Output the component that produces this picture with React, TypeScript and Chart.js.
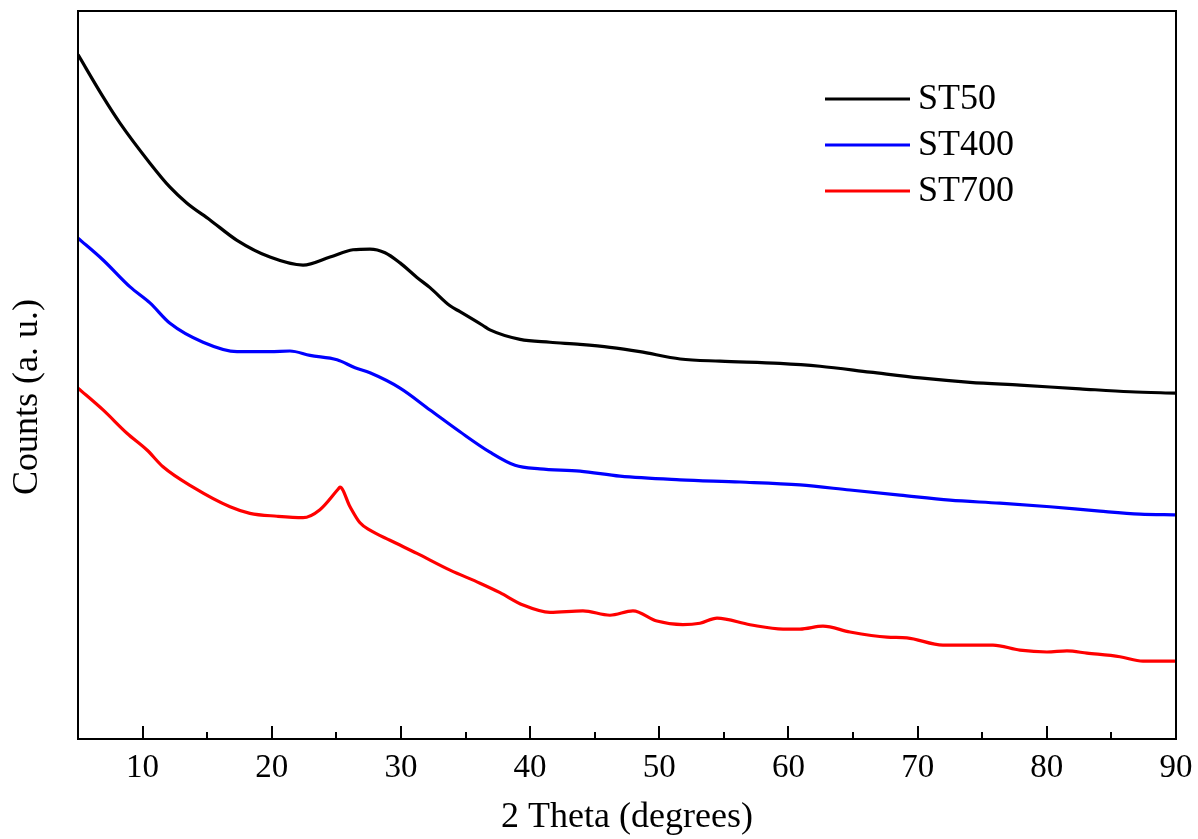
import React, { useEffect, useRef } from "react";
import { Chart, registerables } from "chart.js";

Chart.register(...registerables);

// ---- Data (2θ in degrees, counts in arbitrary units) ----
const st50X = [5.0, 6.94, 8.25, 10.57, 12.12, 13.44, 15.22, 17.31, 19.86, 22.42, 24.51, 26.29, 27.6, 28.77, 29.93, 31.24, 32.25, 33.8, 34.57, 36.35, 36.89, 39.22, 41.54, 43.86, 46.18, 48.5, 51.62, 54.7, 59.34, 62.44, 66.31, 70.18, 74.05, 77.92, 82.57, 86.44, 90.0];
const st50Y = [94.0, 88.2, 84.6, 79.1, 75.8, 73.6, 71.3, 68.5, 66.2, 65.1, 66.2, 67.2, 67.3, 66.8, 65.4, 63.4, 62.0, 59.5, 58.7, 56.8, 56.2, 54.9, 54.5, 54.2, 53.8, 53.2, 52.2, 51.9, 51.6, 51.2, 50.4, 49.6, 49.0, 48.6, 48.1, 47.7, 47.5];

const st400X = [5.0, 6.94, 9.03, 10.57, 12.12, 14.68, 17.31, 19.86, 21.41, 22.96, 25.05, 26.45, 27.6, 29.93, 32.25, 34.57, 36.89, 38.83, 40.76, 43.86, 46.96, 51.6, 56.25, 60.89, 64.76, 68.63, 72.5, 76.37, 80.24, 84.11, 87.21, 90.0];
const st400Y = [68.8, 65.8, 62.1, 59.9, 57.1, 54.5, 53.2, 53.2, 53.3, 52.7, 52.1, 51.0, 50.3, 48.2, 45.2, 42.2, 39.4, 37.6, 37.1, 36.8, 36.1, 35.6, 35.3, 34.9, 34.2, 33.5, 32.8, 32.4, 31.9, 31.3, 30.9, 30.8];

const st700X = [5.0, 6.94, 8.79, 10.34, 11.58, 13.9, 16.77, 18.31, 20.4, 22.42, 23.73, 25.13, 25.28, 26.06, 26.83, 27.6, 29.15, 31.24, 33.8, 36.12, 37.67, 39.45, 41.54, 44.09, 46.18, 47.96, 49.82, 51.83, 53.15, 54.47, 57.02, 59.58, 60.89, 62.67, 64.76, 67.63, 69.17, 71.96, 75.83, 77.92, 80.01, 81.56, 83.11, 85.66, 87.44, 90.0];
const st700Y = [48.2, 45.2, 42.0, 39.7, 37.4, 34.6, 31.9, 31.0, 30.6, 30.4, 31.5, 34.3, 34.6, 31.9, 29.7, 28.7, 27.3, 25.5, 23.2, 21.4, 20.1, 18.4, 17.4, 17.6, 17.0, 17.6, 16.2, 15.7, 15.9, 16.6, 15.7, 15.1, 15.1, 15.5, 14.7, 14.0, 13.9, 12.9, 12.9, 12.2, 11.95, 12.1, 11.8, 11.3, 10.7, 10.7];

const seriesLabels = ["ST50", "ST400", "ST700"];
const seriesColors = ["#000000", "#0000ff", "#ff0000"];

const xMajorTicks = [10, 20, 30, 40, 50, 60, 70, 80, 90];
const xMinorTicks = [15, 25, 35, 45, 55, 65, 75, 85];

const xTitle = "2 Theta (degrees)";
const yTitle = "Counts (a. u.)";

const FONT = '"Liberation Serif", "Times New Roman", serif';

const toPoints = (xs: number[], ys: number[]) => xs.map((x, i) => ({ x, y: ys[i] }));

const framePlugin = {
  id: "frameAndTicks",
  afterDraw(chart: any) {
    const { ctx, chartArea, scales } = chart;
    const { left, top, right, bottom } = chartArea;
    ctx.save();
    ctx.strokeStyle = "#000";
    ctx.lineWidth = 2;
    ctx.strokeRect(left, top, right - left, bottom - top);
    const xs = scales.x;
    ctx.beginPath();
    xMajorTicks.forEach((v) => {
      const px = Math.round(xs.getPixelForValue(v));
      ctx.moveTo(px, bottom);
      ctx.lineTo(px, bottom - 13);
    });
    xMinorTicks.forEach((v) => {
      const px = Math.round(xs.getPixelForValue(v));
      ctx.moveTo(px, bottom);
      ctx.lineTo(px, bottom - 7);
    });
    ctx.stroke();

    // y title
    ctx.fillStyle = "#000";
    ctx.font = `36px ${FONT}`;
    ctx.textAlign = "center";
    ctx.textBaseline = "middle";
    ctx.translate(28, 397);
    ctx.rotate(-Math.PI / 2);
    ctx.fillText(yTitle, 0, 0);
    ctx.restore();

    // legend
    ctx.save();
    ctx.font = `36px ${FONT}`;
    ctx.textAlign = "left";
    ctx.textBaseline = "middle";
    chart.data.datasets.forEach((ds: any, i: number) => {
      const y = 99 + i * 46;
      ctx.strokeStyle = ds.borderColor;
      ctx.lineWidth = 3;
      ctx.beginPath();
      ctx.moveTo(825, y);
      ctx.lineTo(910, y);
      ctx.stroke();
      ctx.fillStyle = "#000";
      ctx.fillText(ds.label, 918, y + 1);
    });
    ctx.restore();
  },
};

export default function App() {
  const canvasRef = useRef<HTMLCanvasElement | null>(null);

  useEffect(() => {
    document.body.style.margin = "0";
    const canvas = canvasRef.current;
    if (!canvas) return;
    const data = [
      toPoints(st50X, st50Y),
      toPoints(st400X, st400Y),
      toPoints(st700X, st700Y),
    ];
    const chart = new Chart(canvas, {
      type: "line",
      data: {
        datasets: data.map((pts, i) => ({
          label: seriesLabels[i],
          data: pts,
          borderColor: seriesColors[i],
          backgroundColor: seriesColors[i],
          borderWidth: 3.2,
          pointRadius: 0,
          fill: false,
          cubicInterpolationMode: "monotone",
        })),
      },
      options: {
        animation: false,
        responsive: false,
        maintainAspectRatio: false,
        layout: { padding: { top: 11, right: 22, left: 0, bottom: 0 } },
        plugins: {
          legend: { display: false },
          tooltip: { enabled: false },
        },
        scales: {
          x: {
            type: "linear",
            min: 5,
            max: 90,
            afterBuildTicks: (s: any) => {
              s.ticks = xMajorTicks.map((v) => ({ value: v }));
            },
            afterFit: (s: any) => {
              s.height = 100;
              s.paddingLeft = 0;
              s.paddingRight = 0;
            },
            grid: { display: false, drawTicks: false },
            border: { display: false },
            ticks: {
              color: "#000",
              font: { family: FONT, size: 33 },
              padding: 10,
              maxRotation: 0,
              autoSkip: false,
            },
            title: {
              display: true,
              text: xTitle,
              color: "#000",
              font: { family: FONT, size: 36 },
              padding: { top: 0, bottom: 0 },
            },
          },
          y: {
            type: "linear",
            min: 0,
            max: 100,
            afterFit: (s: any) => {
              s.width = 78;
            },
            grid: { display: false, drawTicks: false },
            border: { display: false },
            ticks: { display: false },
          },
        },
      },
      plugins: [framePlugin],
    });
    return () => chart.destroy();
  }, []);

  return (
    <div style={{ position: "absolute", left: 0, top: 0, width: 1198, height: 839, background: "#fff" }}>
      <canvas ref={canvasRef} width={1198} height={839} style={{ display: "block" }} />
    </div>
  );
}
